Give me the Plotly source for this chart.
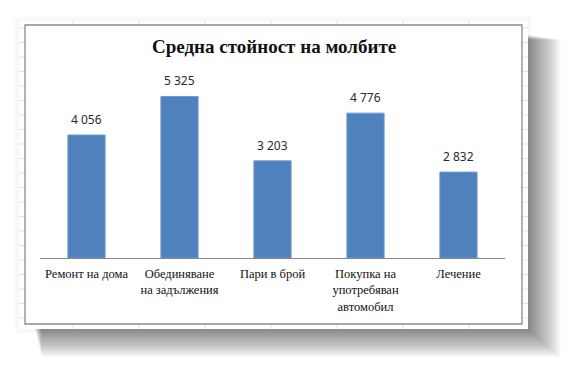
import plotly.graph_objects as go

categories = ["Ремонт на дома", "Обединяване<br>на задължения", "Пари в брой",
              "Покупка на<br>употребяван<br>автомобил", "Лечение"]
values = [4056, 5325, 3203, 4776, 2832]
title_text = "Средна стойност на молбите"

OFF = 8  # page body margin of the browser
W, H = 576 - OFF, 367 - OFF
L, R, T, B = 40, 505, 76, 258  # plot area in page pixels


def px(x):
    return (x - L) / (R - L)


def py(y):
    return (B - y) / (B - T)


shapes = []
# faint glow around the sheet
for k in range(6):
    shapes.append(dict(type="rect", xref="paper", yref="paper", layer="below",
                       x0=px(19 - k), x1=px(528 + k), y0=py(21 - k), y1=py(329 + k),
                       line=dict(width=0), fillcolor="rgba(80,80,80,0.012)"))
# soft shadow (stacked translucent rectangles)
N = 40
for k in range(N):
    shapes.append(dict(type="rect", xref="paper", yref="paper", layer="below",
                       x0=px(34 + k * 0.2), x1=px(524 + k * 0.95),
                       y0=py(34 + k * 0.15), y1=py(326 + k * 0.8),
                       line=dict(width=0), fillcolor="rgba(50,50,50,0.019)"))
# sheet behind the chart
shapes.append(dict(type="rect", xref="paper", yref="paper", layer="below",
                   x0=px(19), x1=px(528), y0=py(21), y1=py(329),
                   line=dict(width=0), fillcolor="white"))
# faint spreadsheet gridlines
yy = 28.0
while yy < 329:
    shapes.append(dict(type="line", xref="paper", yref="paper", layer="below",
                       x0=px(19), x1=px(528), y0=py(yy), y1=py(yy),
                       line=dict(color="#dfe4ee", width=1)))
    yy += 14.5
for xx in [73, 139, 205, 271, 337, 403, 469]:
    shapes.append(dict(type="line", xref="paper", yref="paper", layer="below",
                       x0=px(xx), x1=px(xx), y0=py(21), y1=py(329),
                       line=dict(color="#dfe4ee", width=1)))
# chart box
shapes.append(dict(type="rect", xref="paper", yref="paper", layer="below",
                   x0=px(25), x1=px(522), y0=py(25), y1=py(324),
                   line=dict(color="#8c8c8c", width=1.3), fillcolor="white"))

fig = go.Figure()
fig.add_trace(go.Bar(
    x=categories, y=values, width=0.4,
    marker=dict(color="#4F81BD", line=dict(color="#6f9bd0", width=1)),
    hoverinfo="skip",
))

annotations = []
for c, v in zip(categories, values):
    annotations.append(dict(x=c, y=v, xref="x", yref="y",
                            text=f"{v:,}".replace(",", " "), showarrow=False,
                            yanchor="bottom", yshift=5,
                            font=dict(family="Noto Sans", size=12, color="#2a2a2a")))
annotations.append(dict(x=px(274), y=py(47), xref="paper", yref="paper",
                        text="<b>" + title_text + "</b>", showarrow=False,
                        xanchor="center", yanchor="middle",
                        font=dict(family="Liberation Serif", size=19, color="#111")))

fig.update_layout(
    width=W, height=H,
    margin=dict(l=L - OFF, r=W - (R - OFF), t=T - OFF, b=H - (B - OFF), pad=0),
    paper_bgcolor="white", plot_bgcolor="rgba(0,0,0,0)",
    shapes=shapes, annotations=annotations,
    showlegend=False, bargap=0.6,
    xaxis=dict(showline=True, linecolor="#868686", linewidth=1, ticks="",
               ticklabelstandoff=4,
               tickfont=dict(family="Liberation Serif", size=12.5, color="#111"),
               showgrid=False, zeroline=False, fixedrange=True),
    yaxis=dict(range=[0, 6000], visible=False, showgrid=False, zeroline=False,
               fixedrange=True),
)

fig.write_html("out.html")
